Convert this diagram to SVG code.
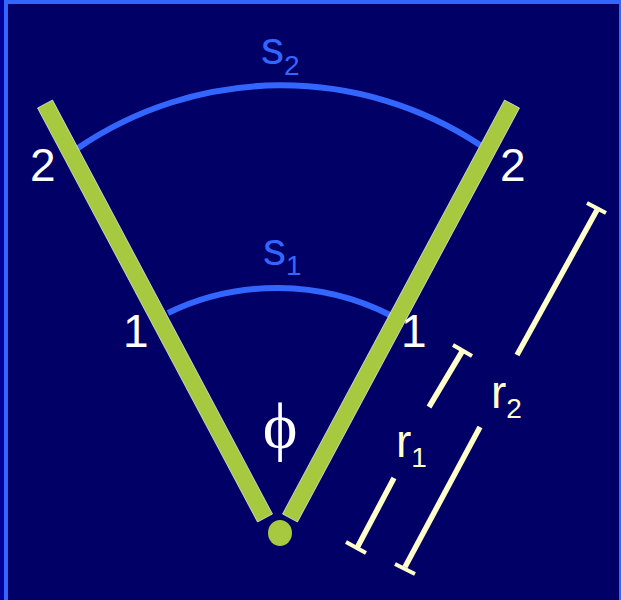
<svg xmlns="http://www.w3.org/2000/svg" width="621" height="600" viewBox="0 0 621 600">
<style>
.bar{fill:#A6C940;stroke:#FFFFFF;stroke-width:0.8;stroke-opacity:0.8}
.arc{fill:none;stroke:#3366FF;stroke-width:6}
.dim{fill:none;stroke:#FFFFCC;stroke-width:5.5}
.tick{fill:none;stroke:#FFFFCC;stroke-width:4}
.lbl{font-family:"Liberation Sans",Arial,sans-serif;font-size:46px;fill:#FFFFFF}
.sub{font-size:28px}
.blue{fill:#3366FF}
.cream{fill:#FFFFCC}
</style>
<rect x="0" y="0" width="621" height="600" fill="#000066"/>
<rect x="0" y="0" width="4" height="600" fill="#000099"/>
<rect x="4" y="0" width="4" height="600" fill="#3366FF"/>
<rect x="4" y="0" width="617" height="4" fill="#3366FF"/>
<rect x="619" y="0" width="2" height="600" fill="#3366FF"/>

<g id="connectors">
<path class="arc" d="M 78 148 A 361 361 0 0 1 480 145"/>
<path class="arc" d="M 168 313 A 250 250 0 0 1 390 315"/>
<line class="dim" x1="597" y1="210" x2="517" y2="355"/>
<line class="dim" x1="480" y1="427" x2="405" y2="567"/>
<line class="tick" x1="587" y1="203" x2="606" y2="213"/>
<line class="tick" x1="395" y1="564" x2="415" y2="574"/>
<line class="dim" x1="463" y1="350" x2="429" y2="407"/>
<line class="dim" x1="394" y1="478" x2="357" y2="548"/>
<line class="tick" x1="453" y1="345" x2="472" y2="356"/>
<line class="tick" x1="346" y1="542" x2="366" y2="553"/>
</g>

<g id="bar-left">
<polygon class="bar" points="37.5,108 52.5,100 272.5,514 257.5,522"/>
</g>
<g id="bar-right">
<polygon class="bar" points="504.5,100 519.5,108 297.5,522 282.5,514"/>
</g>
<g id="pivot">
<ellipse cx="280" cy="533" rx="12" ry="13" fill="#A6C940"/>
</g>

<g id="labels">
<text class="lbl" x="30" y="181">2</text>
<text class="lbl" x="500" y="181">2</text>
<text class="lbl" x="123" y="347">1</text>
<text class="lbl" x="401" y="347">1</text>
<text class="lbl blue" x="261" y="64">s<tspan class="sub" dy="11">2</tspan></text>
<text class="lbl blue" x="263" y="265">s<tspan class="sub" dy="10">1</tspan></text>
<text class="lbl cream" x="396" y="457">r<tspan class="sub" dy="10">1</tspan></text>
<text class="lbl cream" x="491" y="408">r<tspan class="sub" dy="10">2</tspan></text>
<text x="280" y="448" text-anchor="middle" font-family="'Liberation Serif','DejaVu Serif',serif" font-size="66" fill="#FFFFFF">ϕ</text>
</g>
</svg>
